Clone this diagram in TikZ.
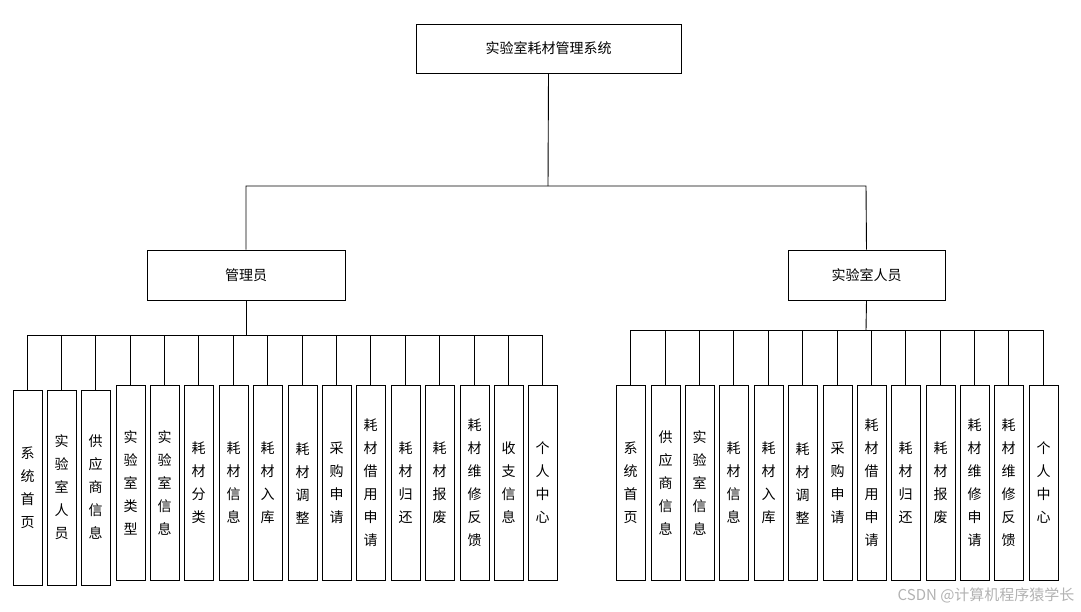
\documentclass[tikz,border=0pt]{standalone}
\usepackage{fontspec}
\newfontfamily\cjk{Noto Sans CJK SC}
\begin{document}
\begin{tikzpicture}[x=1pt,y=-1pt,
  box/.style={draw,line width=0.9pt,inner sep=0pt,font=\cjk\fontsize{14}{16}\selectfont},
  leafa/.style={box,minimum width=29pt,minimum height=195pt,align=center,font=\cjk\fontsize{14}{23}\selectfont},
  leafb/.style={box,minimum width=29pt,minimum height=195pt,align=center,font=\cjk\fontsize{14}{23}\selectfont},
  ln/.style={line width=0.9pt}]
\useasboundingbox (0,0) rectangle (1081,611);
\node[box,minimum width=265pt,minimum height=49pt] (root) at (548.5,48.5) {实验室耗材管理系统};
\node[box,minimum width=198pt,minimum height=50pt] (adm) at (246,275) {管理员};
\node[box,minimum width=157pt,minimum height=50pt] (lab) at (866.5,275) {实验室人员};
\coordinate (bt) at (548,186);
\draw[ln] (root.south) -- (bt);
\draw[ln] (adm.north) -- (246,186) -- (866,186) -- (lab.north);
% left leaves
\foreach \i/\x/\t/\y in {1/13/系\\统\\首\\页/487.5,2/47/实\\验\\室\\人\\员/487.5,3/81/供\\应\\商\\信\\息/487.5,
 4/116/实\\验\\室\\类\\型/483,5/150/实\\验\\室\\信\\息/483,6/184/耗\\材\\分\\类/483,7/219/耗\\材\\信\\息/483,
 8/253/耗\\材\\入\\库/483,9/288/耗\\材\\调\\整/483,10/322/采\\购\\申\\请/483,11/356/耗\\材\\借\\用\\申\\请/483,
 12/391/耗\\材\\归\\还/483,13/425/耗\\材\\报\\废/483,14/460/耗\\材\\维\\修\\反\\馈/483,15/494/收\\支\\信\\息/483,16/528/个\\人\\中\\心/483}{
  \node[leafa] (L\i) at (\x+14.5,\y) {\t};
  \draw[ln] (L\i.north) -- (\x+14.5,335);
}
\draw[ln] (adm.south) -- (246,335);
\draw[ln] (27.5,335) -- (542.5,335);
% right leaves
\foreach \i/\x/\t in {1/616/系\\统\\首\\页,2/651/供\\应\\商\\信\\息,3/685/实\\验\\室\\信\\息,4/719/耗\\材\\信\\息,
 5/754/耗\\材\\入\\库,6/788/耗\\材\\调\\整,7/823/采\\购\\申\\请,8/857/耗\\材\\借\\用\\申\\请,9/891/耗\\材\\归\\还,
 10/926/耗\\材\\报\\废,11/960/耗\\材\\维\\修\\申\\请,12/994/耗\\材\\维\\修\\反\\馈,13/1029/个\\人\\中\\心}{
  \node[leafb] (R\i) at (\x+14.5,483) {\t};
  \draw[ln] (R\i.north) -- (\x+14.5,330);
}
\draw[ln] (lab.south) -- (866,330);
\draw[ln] (630.5,330) -- (1043.5,330);
\node[font=\cjk\fontsize{15}{16}\selectfont,text=black!30,anchor=east] (wm) at (1078,595) {CSDN @计算机程序猿学长};
\end{tikzpicture}
\end{document}
